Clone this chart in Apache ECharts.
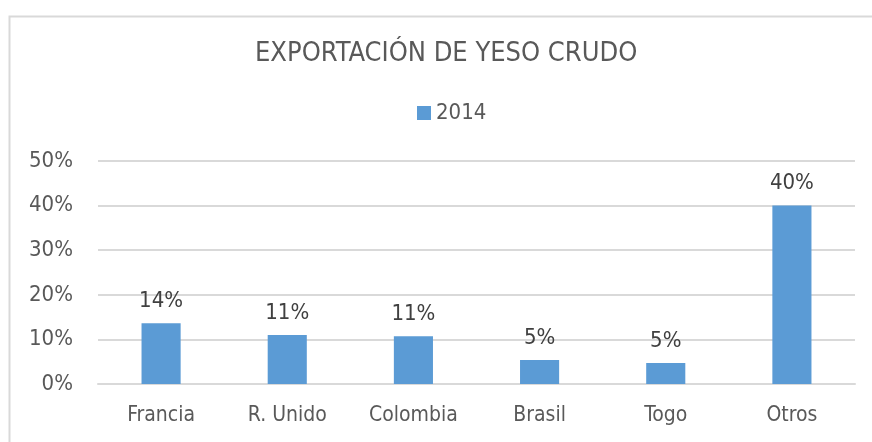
<!DOCTYPE html>
<html>
<head>
<meta charset="utf-8">
<script src="https://cdn.jsdelivr.net/npm/echarts@6/dist/echarts.min.js"></script>
<style>
  html, body { margin: 0; padding: 0; background: #fff; }
  #chart { width: 872px; height: 442px; }
</style>
</head>
<body>
<div id="chart"></div>
<script>
// datos
const paises = ['Francia', 'R. Unido', 'Colombia', 'Brasil', 'Togo', 'Otros'];
const valores2014 = [13.6, 11.0, 10.7, 5.4, 4.7, 40.0];
const serieNombre = '2014';
const titulo = 'EXPORTACIÓN DE YESO CRUDO';

const fuente = "'DejaVu Sans Condensed', 'DejaVu Sans', sans-serif";
const azul = '#5b9bd5';
const gris = '#595959';

const myChart = echarts.init(document.getElementById('chart'));

const option = {
  animation: false,
  textStyle: { fontFamily: fuente },
  graphic: [
    {
      // marco del área del gráfico (solo se ven lados izq. y superior)
      type: 'rect',
      left: 7, top: 14,
      shape: { width: 900, height: 460 },
      style: { fill: 'none', stroke: '#d9d9d9', lineWidth: 2 },
      silent: true
    }
  ],
  title: {
    text: titulo,
    left: 250,
    top: 35,
    textStyle: { fontFamily: fuente, fontSize: 27, fontWeight: 'normal', color: gris }
  },
  legend: {
    data: [serieNombre],
    top: 97,
    left: 412,
    itemWidth: 14,
    itemHeight: 14,
    itemGap: 6,
    icon: 'rect',
    textStyle: { fontFamily: fuente, fontSize: 22, color: gris }
  },
  grid: { left: 98, right: 17, top: 161, bottom: 58 },
  xAxis: {
    type: 'category',
    data: paises,
    axisLine: { lineStyle: { color: '#d9d9d9', width: 2 } },
    axisTick: { show: false },
    axisLabel: { fontFamily: fuente, fontSize: 21, color: gris, margin: 21 }
  },
  yAxis: {
    type: 'value',
    min: 0,
    max: 50,
    interval: 10,
    axisLine: { show: false },
    axisTick: { show: false },
    splitLine: { lineStyle: { color: '#d9d9d9', width: 2 } },
    axisLabel: {
      fontFamily: fuente, fontSize: 22, color: gris, margin: 25,
      formatter: v => v + '%'
    }
  },
  series: [
    {
      name: serieNombre,
      type: 'bar',
      data: valores2014,
      barWidth: '31%',
      itemStyle: { color: azul },
      label: {
        show: true,
        position: 'top',
        distance: 11,
        fontFamily: fuente,
        fontSize: 22,
        color: '#404040',
        formatter: p => Math.round(p.value) + '%'
      }
    }
  ]
};

myChart.setOption(option);
</script>
</body>
</html>
